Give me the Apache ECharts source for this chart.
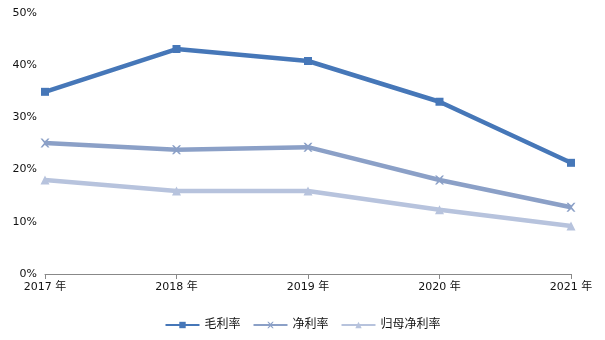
<!DOCTYPE html>
<html>
<head>
<meta charset="utf-8">
<script src="https://cdn.jsdelivr.net/npm/echarts@6/dist/echarts.min.js"></script>
<style>
html,body{margin:0;padding:0;background:#fff;}
#chart{width:605px;height:340px;}
</style>
</head>
<body>
<div id="chart"></div>
<script>
// Years on the category axis
const years = ['2017 年', '2018 年', '2019 年', '2020 年', '2021 年'];
// Margin ratios, in percent
const grossMargin = [34.9, 43.1, 40.8, 33.0, 21.3];
const netMargin = [25.1, 23.8, 24.3, 18.0, 12.8];
const parentNetMargin = [18.0, 15.9, 15.9, 12.3, 9.2];
const seriesNames = ['毛利率', '净利率', '归母净利率'];
const yTicks = [0, 10, 20, 30, 40, 50];

const colors = ['#4677b8', '#8ba0c7', '#b7c3dd'];
const crossPath = 'path://M0,0 L2,0 L5,3 L8,0 L10,0 L6,5 L10,10 L8,10 L5,7 L2,10 L0,10 L4,5 Z';

const chart = echarts.init(document.getElementById('chart'));
const font = 'Verdana, "DejaVu Sans", "Noto Sans CJK SC", sans-serif';

function line(name, data, color, symbol, size) {
  return {
    name, type: 'line', data,
    symbol, symbolSize: size,
    lineStyle: { color, width: 4.5 },
    itemStyle: { color },
    emphasis: { disabled: true },
    animation: false
  };
}

chart.setOption({
  animation: false,
  grid: { left: 45, right: 34, top: 13, bottom: 66 },
  legend: {
    bottom: 4, left: 'center',
    itemWidth: 34, itemHeight: 8, itemGap: 12,
    textStyle: { fontSize: 12, color: '#111', fontFamily: font },
    data: seriesNames
  },
  xAxis: {
    type: 'category', data: years, boundaryGap: false,
    axisLine: { lineStyle: { color: '#888', width: 1 } },
    axisTick: { show: true, length: 5, lineStyle: { color: '#888' } },
    axisLabel: { fontSize: 11, color: '#111', fontFamily: font, margin: 8 }
  },
  yAxis: {
    type: 'value', min: yTicks[0], max: yTicks[yTicks.length - 1], interval: 10,
    axisLine: { show: false }, axisTick: { show: false },
    splitLine: { show: false },
    axisLabel: { fontSize: 11, color: '#111', fontFamily: font, margin: 8, formatter: v => v + '%' }
  },
  series: [
    line(seriesNames[0], grossMargin, colors[0], 'rect', 8),
    line(seriesNames[1], netMargin, colors[1], crossPath, 9),
    line(seriesNames[2], parentNetMargin, colors[2], 'triangle', 9)
  ]
});
</script>
</body>
</html>
